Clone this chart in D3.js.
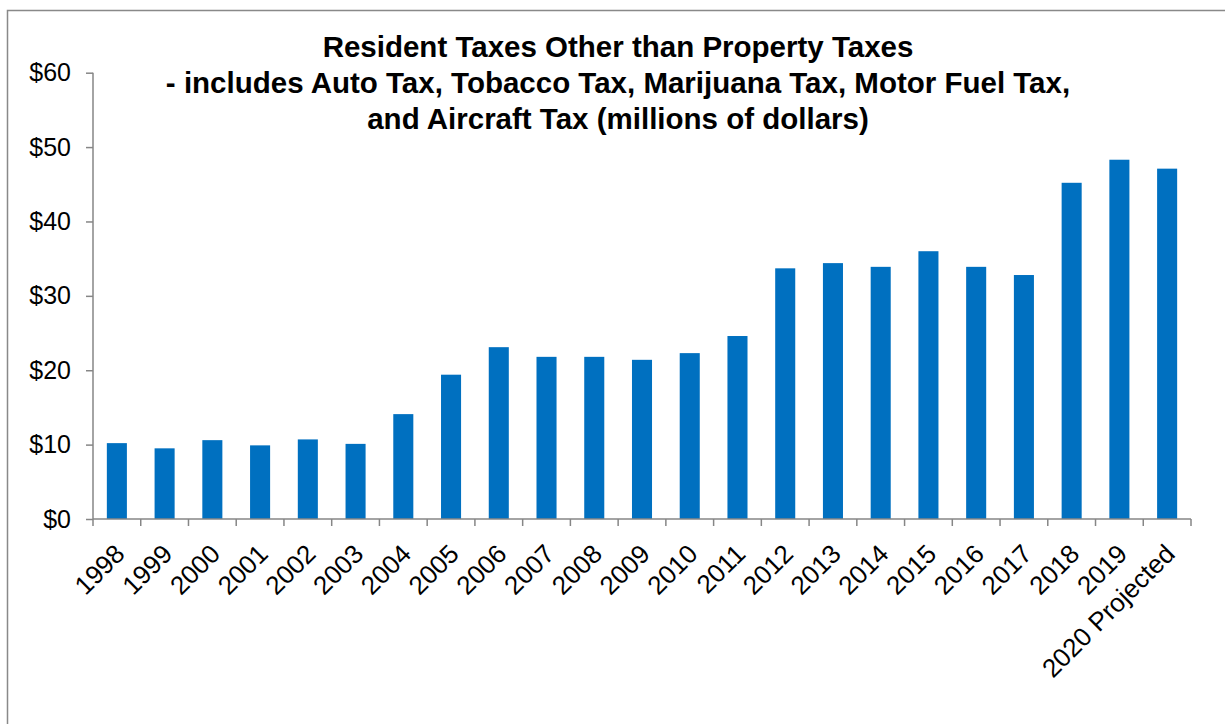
<!DOCTYPE html>
<html>
<head>
<meta charset="utf-8">
<script src="https://cdn.jsdelivr.net/npm/d3@7"></script>
<style>
  html, body { margin: 0; padding: 0; background: #fff; }
  svg { display: block; font-family: "Liberation Sans", Arial, sans-serif; }
</style>
</head>
<body>
<svg id="chart" width="1225" height="724"></svg>
<script>
const categories = ["1998","1999","2000","2001","2002","2003","2004","2005","2006","2007","2008","2009","2010","2011","2012","2013","2014","2015","2016","2017","2018","2019","2020 Projected"];
const values = [10.2, 9.5, 10.6, 9.9, 10.7, 10.1, 14.1, 19.4, 23.1, 21.8, 21.8, 21.4, 22.3, 24.6, 33.7, 34.4, 33.9, 36.0, 33.9, 32.8, 45.2, 48.3, 47.1];
const yTicks = [0, 10, 20, 30, 40, 50, 60];
const titleLines = [
  "Resident Taxes Other than Property Taxes",
  "- includes Auto Tax, Tobacco Tax, Marijuana Tax, Motor Fuel Tax,",
  "and Aircraft Tax (millions of dollars)"
];

const svg = d3.select("#chart");
const axisColor = "#868686";

// outer frame
svg.append("rect")
  .attr("x", 7.5).attr("y", 10.5)
  .attr("width", 1400).attr("height", 900)
  .attr("fill", "none")
  .attr("stroke", "#898989")
  .attr("stroke-width", 1.5);

const x = d3.scaleBand()
  .domain(categories)
  .range([93, 1191])
  .paddingInner(0.58)
  .paddingOuter(0.29);

const y = d3.scaleLinear().domain([0, 60]).range([519, 72.7]);

// bars
svg.append("g").selectAll("rect")
  .data(categories)
  .join("rect")
  .attr("x", d => x(d))
  .attr("width", x.bandwidth())
  .attr("y", (d, i) => y(values[i]))
  .attr("height", (d, i) => y(0) - y(values[i]))
  .attr("fill", "#0070C0");

// y axis
const yAxis = svg.append("g")
  .attr("transform", "translate(93,0)")
  .call(d3.axisLeft(y).tickValues(yTicks).tickSize(7).tickPadding(15).tickFormat(d => "$" + d));
yAxis.selectAll("path, line").attr("stroke", axisColor).attr("stroke-width", 1.5);
yAxis.select(".domain").attr("d", `M0,${y(60)}V${y(0)}`);
yAxis.selectAll("text")
  .attr("font-size", 25).attr("fill", "#000")
  .attr("font-family", "'Liberation Sans', Arial, sans-serif");

// x axis: baseline and ticks at category boundaries
const xg = svg.append("g");
xg.append("line")
  .attr("x1", 93).attr("x2", 1191)
  .attr("y1", y(0)).attr("y2", y(0))
  .attr("stroke", axisColor).attr("stroke-width", 1.5);
const step = x.step();
const boundaries = categories.map(c => x(c) - (step - x.bandwidth()) / 2);
boundaries.push(boundaries[boundaries.length - 1] + step);
xg.selectAll("line.tick")
  .data(boundaries)
  .join("line")
  .attr("class", "tick")
  .attr("x1", d => d).attr("x2", d => d)
  .attr("y1", y(0)).attr("y2", y(0) + 7)
  .attr("stroke", axisColor).attr("stroke-width", 1.5);

xg.selectAll("text")
  .data(categories)
  .join("text")
  .attr("transform", d => `translate(${x(d) + x.bandwidth() / 2 + 3},${y(0) + 30}) rotate(-45)`)
  .attr("text-anchor", "end")
  .attr("dy", "0.35em")
  .attr("font-size", 26)
  .attr("fill", "#000")
  .text(d => d);

// title
svg.append("text")
  .attr("x", 618)
  .attr("text-anchor", "middle")
  .attr("font-size", 29.5)
  .attr("font-weight", "bold")
  .attr("fill", "#000")
  .selectAll("tspan")
  .data(titleLines)
  .join("tspan")
  .attr("x", 618)
  .attr("y", (d, i) => 57 + i * 36)
  .text(d => d);
</script>
</body>
</html>
